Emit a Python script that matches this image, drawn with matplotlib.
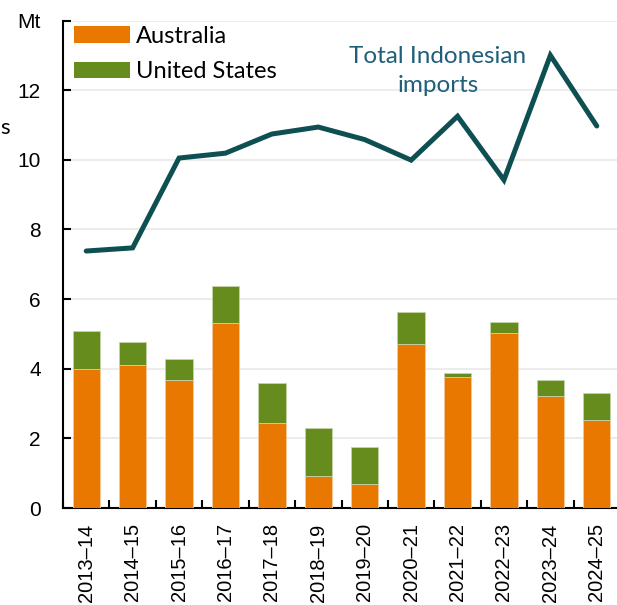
import matplotlib
matplotlib.use("Agg")
import matplotlib.pyplot as plt
import numpy as np
from matplotlib.patches import Patch

categories = ["2013–14", "2014–15", "2015–16", "2016–17", "2017–18", "2018–19",
              "2019–20", "2020–21", "2021–22", "2022–23", "2023–24", "2024–25"]
australia = [4.00, 4.12, 3.67, 5.31, 2.44, 0.92, 0.68, 4.70, 3.77, 5.02, 3.22, 2.53]
united_states = [1.07, 0.65, 0.60, 1.07, 1.14, 1.38, 1.07, 0.94, 0.11, 0.33, 0.45, 0.78]
total_imports = [7.38, 7.47, 10.05, 10.19, 10.74, 10.94, 10.58, 9.99, 11.25, 9.42, 13.00, 10.97]
ytick_labels = ["0", "2", "4", "6", "8", "10", "12", "Mt"]

AUS_C = "#E87800"
US_C = "#678C1E"
LINE_C = "#0E4F52"
TEXT_C = "#1F5F7A"

fig = plt.figure(figsize=(6.17, 6.05), dpi=100)
ax = fig.add_axes([63 / 617, 97 / 605, 557 / 617, 487.5 / 605])

x = np.arange(len(categories))
w = 0.59
ax.bar(x, australia, width=w, color=AUS_C, edgecolor="#f3c99a", linewidth=0.6, zorder=3)
ax.bar(x, united_states, width=w, bottom=australia, color=US_C,
       edgecolor="#c5d4a8", linewidth=0.6, zorder=3)
ax.plot(x, total_imports, color=LINE_C, linewidth=3.6, solid_capstyle="round",
        solid_joinstyle="miter", zorder=4)

ax.set_xlim(-0.5, 11.5)
ax.set_ylim(0, 14)
ax.set_yticks(np.arange(0, 15, 2))
ax.set_yticklabels(ytick_labels, fontsize=15, family="Liberation Sans")
ax.yaxis.grid(True, color="#ececec", linewidth=1.5, zorder=0)
ax.set_axisbelow(True)

ax.set_xticks(x)
ax.set_xticklabels(categories, rotation=90, fontsize=14.5, family="Liberation Sans")
ax.set_xticks(np.arange(-0.5, 12, 1), minor=True)
ax.tick_params(axis="x", which="major", length=0, pad=11)
ax.tick_params(axis="x", which="minor", direction="in", length=5.5, width=1.5)
ax.tick_params(axis="y", direction="in", length=5.5, width=1.5, pad=16)

for s in ["top", "right"]:
    ax.spines[s].set_visible(False)
for s in ["left", "bottom"]:
    ax.spines[s].set_linewidth(1.5)

handles = [Patch(facecolor=AUS_C, label="Australia"),
           Patch(facecolor=US_C, label="United States")]
leg = ax.legend(handles=handles, loc="upper left", bbox_to_anchor=(-0.005, 1.018),
                frameon=False, prop={"family": "Lato", "size": 17},
                handlelength=2.35, handleheight=0.7, handletextpad=0.25,
                labelspacing=0.6, borderaxespad=0.2)

ax.text(7.58, 12.55, "Total Indonesian\nimports", ha="center", va="center",
        fontsize=17.5, family="Lato", color=TEXT_C, linespacing=1.45)

fig.text(0.0, 1 - 128 / 605, "s", fontsize=16, family="Lato", ha="left", va="center")

fig.savefig("out.png", dpi=100)
